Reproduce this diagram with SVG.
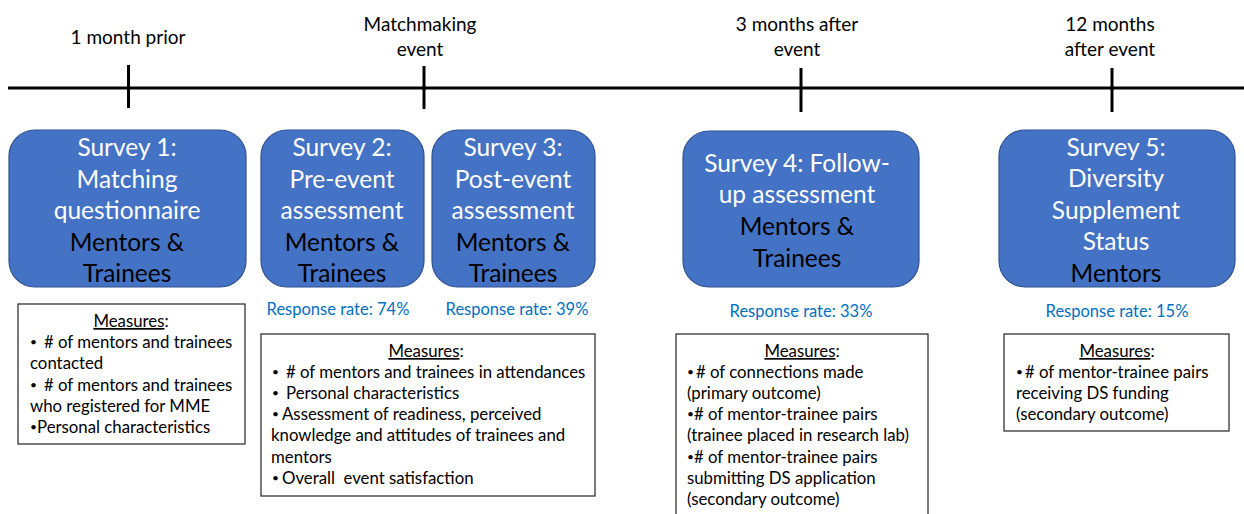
<svg xmlns="http://www.w3.org/2000/svg" width="1244" height="514" viewBox="0 0 1244 514">
  <style>
    text { white-space: pre; }
    .lbl { font-family: Lato, "Open Sans", sans-serif; font-size: 19px; fill: #000; text-anchor: middle; }
    .survey { fill: #4472C4; stroke: #2F528F; stroke-width: 1.2; }
    .st { font-family: Lato, "Open Sans", sans-serif; font-size: 24.5px; text-anchor: middle; }
    .w { fill: #fff; }
    .k { fill: #000; }
    .rate { font-family: Lato, "Open Sans", sans-serif; font-size: 16.5px; fill: #0070C0; text-anchor: middle; }
    .mbox { fill: #fff; stroke: #222; stroke-width: 1.2; }
    .mt { font-family: Lato, "Open Sans", sans-serif; font-size: 16.8px; fill: #000; }
    .mh { text-anchor: middle; }
    .b { font-size: 12px; }
    .axis { stroke: #000; stroke-width: 3; fill: none; }
  </style>

  <!-- timeline axis and tick marks -->
  <g id="timeline">
    <line class="axis" x1="8" y1="88" x2="1244" y2="88"/>
    <line class="axis" x1="128.5" y1="65" x2="128.5" y2="108"/>
    <line class="axis" x1="424" y1="66" x2="424" y2="109"/>
    <line class="axis" x1="801" y1="68" x2="801" y2="112"/>
    <line class="axis" x1="1112" y1="68" x2="1112" y2="112"/>
  </g>

  <!-- time point labels -->
  <g id="time-labels">
    <text class="lbl" x="128" y="44">1 month prior</text>
    <text class="lbl" x="420" y="31">Matchmaking</text>
    <text class="lbl" x="420" y="56">event</text>
    <text class="lbl" x="797" y="31">3 months after</text>
    <text class="lbl" x="797" y="56">event</text>
    <text class="lbl" x="1110" y="31">12 months</text>
    <text class="lbl" x="1110" y="56">after event</text>
  </g>

  <!-- survey nodes -->
  <g id="survey1">
    <rect class="survey" x="9" y="130" width="237" height="157" rx="26"/>
    <text class="st w" x="127" y="156">Survey 1:</text>
    <text class="st w" x="127" y="188">Matching</text>
    <text class="st w" x="127" y="219">questionnaire</text>
    <text class="st k" x="127" y="251">Mentors &amp;</text>
    <text class="st k" x="127" y="282">Trainees</text>
  </g>
  <g id="survey2">
    <rect class="survey" x="261" y="130" width="163" height="157" rx="26"/>
    <text class="st w" x="342" y="156">Survey 2:</text>
    <text class="st w" x="342" y="188">Pre-event</text>
    <text class="st w" x="342" y="219">assessment</text>
    <text class="st k" x="342" y="251">Mentors &amp;</text>
    <text class="st k" x="342" y="282">Trainees</text>
  </g>
  <g id="survey3">
    <rect class="survey" x="432" y="130" width="163" height="157" rx="26"/>
    <text class="st w" x="513" y="156">Survey 3:</text>
    <text class="st w" x="513" y="188">Post-event</text>
    <text class="st w" x="513" y="219">assessment</text>
    <text class="st k" x="513" y="251">Mentors &amp;</text>
    <text class="st k" x="513" y="282">Trainees</text>
  </g>
  <g id="survey4">
    <rect class="survey" x="683" y="131" width="236" height="156" rx="26"/>
    <text class="st w" x="797" y="172">Survey 4: Follow-</text>
    <text class="st w" x="797" y="203">up assessment</text>
    <text class="st k" x="797" y="235">Mentors &amp;</text>
    <text class="st k" x="797" y="267">Trainees</text>
  </g>
  <g id="survey5">
    <rect class="survey" x="999" y="130" width="236" height="157" rx="26"/>
    <text class="st w" x="1116" y="156">Survey 5:</text>
    <text class="st w" x="1116" y="187">Diversity</text>
    <text class="st w" x="1116" y="219">Supplement</text>
    <text class="st w" x="1116" y="250">Status</text>
    <text class="st k" x="1116" y="282">Mentors</text>
  </g>

  <!-- response rates -->
  <g id="response-rates">
    <text class="rate" x="338" y="315">Response rate: 74%</text>
    <text class="rate" x="517" y="315">Response rate: 39%</text>
    <text class="rate" x="801" y="317">Response rate: 33%</text>
    <text class="rate" x="1117" y="317">Response rate: 15%</text>
  </g>

  <!-- measures boxes; bullets are set smaller and slightly raised, item text starts at a fixed x -->
  <g id="measures1">
    <rect class="mbox" x="18" y="304" width="227" height="140"/>
    <text class="mt mh" x="131" y="327"><tspan text-decoration="underline">Measures</tspan>:</text>
    <text class="mt" x="30" y="348"><tspan class="b" dy="-2">•</tspan><tspan x="44" dy="2"># of mentors and trainees</tspan></text>
    <text class="mt" x="30" y="369">contacted</text>
    <text class="mt" x="30" y="391"><tspan class="b" dy="-2">•</tspan><tspan x="44" dy="2"># of mentors and trainees</tspan></text>
    <text class="mt" x="30" y="412">who registered for MME</text>
    <text class="mt" x="30" y="433"><tspan class="b" dy="-2">•</tspan><tspan x="37" dy="2">Personal characteristics</tspan></text>
  </g>
  <g id="measures2">
    <rect class="mbox" x="261" y="334" width="334" height="162"/>
    <text class="mt mh" x="426" y="357"><tspan text-decoration="underline">Measures</tspan>:</text>
    <text class="mt" x="272" y="378"><tspan class="b" dy="-2">•</tspan><tspan x="286" dy="2"># of mentors and trainees in attendances</tspan></text>
    <text class="mt" x="272" y="399"><tspan class="b" dy="-2">•</tspan><tspan x="286" dy="2">Personal characteristics</tspan></text>
    <text class="mt" x="272" y="420"><tspan class="b" dy="-2">•</tspan><tspan x="282" dy="2">Assessment of readiness, perceived</tspan></text>
    <text class="mt" x="271" y="441">knowledge and attitudes of trainees and</text>
    <text class="mt" x="271" y="463">mentors</text>
    <text class="mt" x="272" y="484"><tspan class="b" dy="-2">•</tspan><tspan x="282" dy="2">Overall  event satisfaction</tspan></text>
  </g>
  <g id="measures3">
    <rect class="mbox" x="676" y="334" width="252" height="190"/>
    <text class="mt mh" x="802" y="357"><tspan text-decoration="underline">Measures</tspan>:</text>
    <text class="mt" x="687" y="378"><tspan class="b" dy="-2">•</tspan><tspan x="696" dy="2"># of connections made</tspan></text>
    <text class="mt" x="687" y="399">(primary outcome)</text>
    <text class="mt" x="687" y="420"><tspan class="b" dy="-2">•</tspan><tspan x="694" dy="2"># of mentor-trainee pairs</tspan></text>
    <text class="mt" x="687" y="441">(trainee placed in research lab)</text>
    <text class="mt" x="687" y="463"><tspan class="b" dy="-2">•</tspan><tspan x="694" dy="2"># of mentor-trainee pairs</tspan></text>
    <text class="mt" x="687" y="484">submitting DS application</text>
    <text class="mt" x="687" y="505">(secondary outcome)</text>
  </g>
  <g id="measures4">
    <rect class="mbox" x="1004" y="334" width="225" height="97"/>
    <text class="mt mh" x="1117" y="357"><tspan text-decoration="underline">Measures</tspan>:</text>
    <text class="mt" x="1016" y="378"><tspan class="b" dy="-2">•</tspan><tspan x="1025" dy="2"># of mentor-trainee pairs</tspan></text>
    <text class="mt" x="1016" y="399">receiving DS funding</text>
    <text class="mt" x="1016" y="420">(secondary outcome)</text>
  </g>
</svg>
